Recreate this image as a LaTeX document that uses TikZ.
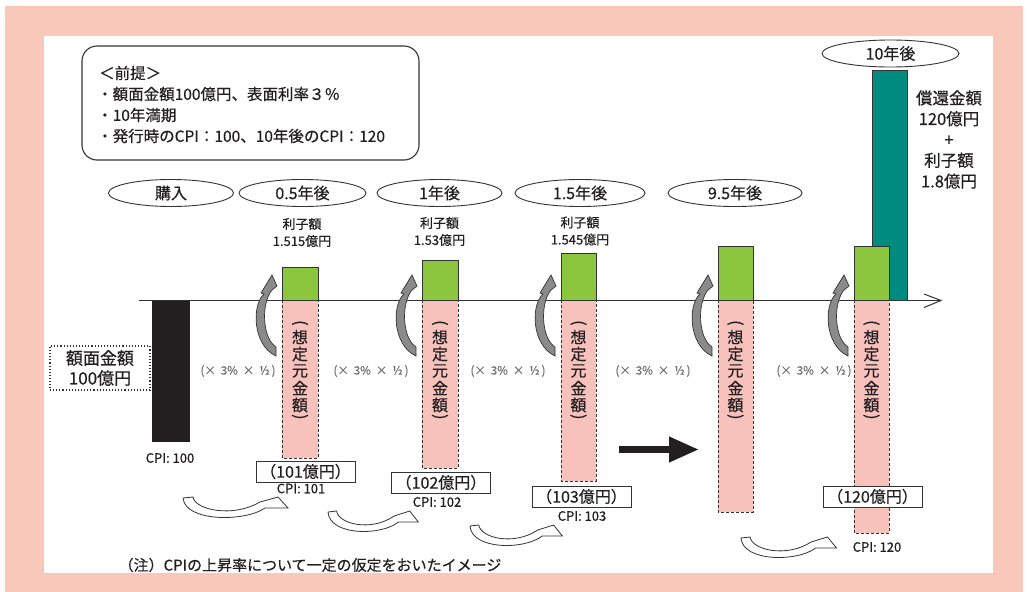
\documentclass[tikz,border=0pt]{standalone}
\usepackage{fontspec}
\setmainfont{Noto Sans CJK JP}[FakeBold=0.5]
\usetikzlibrary{shapes.geometric,arrows.meta}
\definecolor{salmonbg}{HTML}{F8C9BA}
\definecolor{txtc}{HTML}{231F20}
\definecolor{linec}{HTML}{333333}
\definecolor{greenc}{HTML}{8CC63F}
\definecolor{tealc}{HTML}{008B80}
\definecolor{pinkc}{HTML}{F7C1BC}
\definecolor{grayt}{HTML}{6D6E71}
\definecolor{arrgray}{HTML}{8A8A8A}
\newcommand\myfs[2]{\fontsize{#1}{#2}\selectfont}
\tikzset{
  txt/.style={inner sep=0pt, text=txtc, align=center},
  ell/.style={draw=linec, ellipse, line width=0.9pt, fill=white, inner sep=0pt,
    minimum height=27pt, text=txtc, font=\myfs{16}{18}},
  greenbar/.style={draw=linec, fill=greenc, line width=0.9pt},
  tealbar/.style={draw=linec, fill=tealc, line width=0.9pt},
  pinkbar/.style={draw=linec, fill=pinkc, line width=0.9pt, dash pattern=on 3pt off 2pt},
  amtbox/.style={draw=linec, fill=white, line width=1pt, inner sep=0pt,
    minimum width=99pt, minimum height=21pt, text=txtc, font=\myfs{16}{18}},
  cpilbl/.style={txt, font=\myfs{13}{15}},
  ratelbl/.style={inner sep=0pt, text=grayt, font=\myfs{11.5}{13}},
  vtext/.style={txt, font=\myfs{16}{17}},
  grayarr/.pic={
    \filldraw[fill=arrgray, draw=linec, line width=0.7pt]
      (-6,56) .. controls (-30,45) and (-30,4) .. (-18,-6) -- (-21,-7) -- (-10,-25)
      -- (-5,-14) -- (-10,-10) .. controls (-21,3) and (-20,38) .. (-6,47) -- cycle;
  },
  whitearr/.pic={
    \filldraw[fill=white, draw=linec, line width=0.8pt]
      (0,1) -- (10,0) .. controls (12,13) and (50,21) .. (77,5) -- (95,0) -- (105,11)
      -- (82,11) .. controls (62,25) and (2,25) .. (0,1) -- cycle;
  }
}
\begin{document}
\begin{tikzpicture}[x=1pt,y=-1pt]
\useasboundingbox (0,0) rectangle (1029,592);
\fill[salmonbg] (5,6) rectangle (1023,592);
\fill[white] (44,36) rectangle (993,573);

% premise box
\draw[linec, line width=1.1pt, rounded corners=15pt] (82,46) rectangle (419,160);
\node[txt, anchor=west, font=\myfs{15.5}{18}] (p0) at (99,73) {＜前提＞};
\node[txt, anchor=west, font=\myfs{15.5}{18}] (p1) at (97,94) {・額面金額100億円、表面利率３％};
\node[txt, anchor=west, font=\myfs{15.5}{18}] (p2) at (97,115) {・10年満期};
\node[txt, anchor=west, font=\myfs{15.5}{18}] (p3) at (97,136) {・発行時のCPI：100、10年後のCPI：120};

% time ellipses
\node[ell, minimum width=125pt] (e0) at (171,193) {購入};
\node[ell, minimum width=127pt] (e1) at (302.5,193) {0.5年後};
\node[ell, minimum width=125pt] (e2) at (439.5,193) {1年後};
\node[ell, minimum width=130pt] (e3) at (580,193) {1.5年後};
\node[ell, minimum width=134pt] (e4) at (735,193) {9.5年後};
\node[ell, minimum width=137pt] (e5) at (890.5,53.5) {10年後};

% interest labels
\node[txt, font=\myfs{13}{17}] (i1) at (302,232.5) {利子額\\1.515億円};
\node[txt, font=\myfs{13}{17}] (i2) at (439.5,231.5) {利子額\\1.53億円};
\node[txt, font=\myfs{13}{17}] (i3) at (580,231) {利子額\\1.545億円};
\node[txt, font=\myfs{16.5}{20.8}] (red) at (949,139.5) {償還金額\\120億円\\+\\利子額\\1.8億円};

% bars
\fill[txtc] (152,300) rectangle (190,442);
\draw[tealbar] (872,70) rectangle (907,300);
\draw[greenbar] (282,267) rectangle (318,300);
\draw[greenbar] (422,260) rectangle (458,300);
\draw[greenbar] (561,253) rectangle (596,300);
\draw[greenbar] (718,246) rectangle (753,300);
\draw[greenbar] (854,246) rectangle (889,300);
\draw[pinkbar] (282,300) rectangle (318,458);
\draw[pinkbar] (422,300) rectangle (458,468);
\draw[pinkbar] (561,300) rectangle (596,481);
\draw[pinkbar] (718,300) rectangle (753,512);
\draw[pinkbar] (854,300) rectangle (889,533);

% axis
\coordinate (ax0) at (139,300.5);
\coordinate (ax1) at (941,300.5);
\coordinate (axa) at (924,294);
\coordinate (axb) at (924,307.5);
\draw[linec, line width=1pt] (ax0) -- (ax1);
\draw[linec, line width=1pt] (axa) -- (ax1) -- (axb);

% vertical labels
\foreach \cx [count=\k] in {300, 440, 578.5, 735.5, 871.5}{
  \node[vtext] (vpa\k) at (\cx,324) {\rotatebox[origin=c]{-90}{(}};
  \node[vtext] (vc1\k) at (\cx,337) {想};
  \node[vtext] (vc2\k) at (\cx,354) {定};
  \node[vtext] (vc3\k) at (\cx,371) {元};
  \node[vtext] (vc4\k) at (\cx,388) {金};
  \node[vtext] (vc5\k) at (\cx,405) {額};
  \node[vtext] (vpb\k) at (\cx,418) {\rotatebox[origin=c]{-90}{)}};
}

% gray curved arrows
\pic (g1) at (282,300) {grayarr};
\pic (g2) at (422,300) {grayarr};
\pic (g3) at (561,300) {grayarr};
\pic (g4) at (718,300) {grayarr};
\pic (g5) at (854,300) {grayarr};

% rate labels
\foreach \cx/\nm in {238/r1, 371/r2, 508/r3, 653/r4, 814/r5}{
  \node[ratelbl] (\nm) at (\cx,371) {(×\hspace{5pt}3\%\hspace{5pt}×\hspace{5pt}½\,)};
}

% face value box
\node[draw=linec, dotted, line width=1.1pt, minimum width=100pt, minimum height=44pt,
  inner sep=0pt, text=txtc, align=center, font=\myfs{17}{20}] (face) at (100,368) {額面金額\\100億円};

% amount boxes
\node[amtbox] (a1) at (305.5,471.5) {（101億円）};
\node[amtbox] (a2) at (441,482.5) {（102億円）};
\node[amtbox] (a3) at (581.5,496.5) {（103億円）};
\node[amtbox] (a4) at (872.5,496.5) {（120億円）};

% CPI labels
\node[cpilbl] (c0) at (170,458) {CPI: 100};
\node[cpilbl] (c1) at (301,488.5) {CPI: 101};
\node[cpilbl] (c2) at (437,502) {CPI: 102};
\node[cpilbl] (c3) at (582,516) {CPI: 103};
\node[cpilbl] (c4) at (877,547) {CPI: 120};

% white curved arrows
\pic (w1) at (183,497) {whitearr};
\pic[xscale=0.86] (w2) at (328,511) {whitearr};
\pic[xscale=0.88] (w3) at (470,525) {whitearr};
\pic[xscale=0.91] (w4) at (741,537) {whitearr};

% big black arrow
\coordinate (bk0) at (619,449.5);
\coordinate (bk1) at (699,449.5);
\draw[txtc, line width=7pt, -{Triangle[length=30pt,width=24pt]}] (bk0) -- (bk1);

% footnote
\node[txt, font=\myfs{15}{17}] (note) at (310,565) {（注）CPIの上昇率について一定の仮定をおいたイメージ};
\end{tikzpicture}
\end{document}
